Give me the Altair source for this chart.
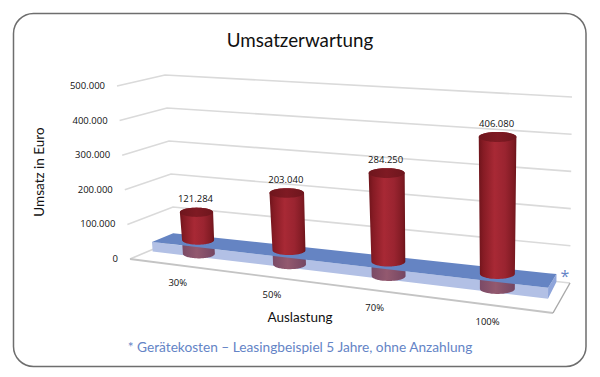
import numpy as np
import pandas as pd
import altair as alt

categories = ["30%", "50%", "70%", "100%"]
revenue = [121284, 203040, 284250, 406080]
tick_values = [0, 100000, 200000, 300000, 400000, 500000]
TITLE = "Umsatzerwartung"
Y_TITLE = "Umsatz in Euro"
X_TITLE = "Auslastung"
FOOTNOTE = "* Gerätekosten – Leasingbeispiel 5 Jahre, ohne Anzahlung"
VMAX = 500000
FONT = "Open Sans"
FONT2 = "Lato"
BLUE = "#6484C6"

# scene: corners of the 3D box as seen on the page
# keyed (u, d, v): u along categories, d back->front, v floor->top
C = {
    (0, 0, 0): (175, 240), (0, 0, 1): (165, 75),
    (1, 0, 0): (570, 283), (1, 0, 1): (572, 97),
    (0, 1, 0): (130, 259), (0, 1, 1): (117, 86),
    (1, 1, 0): (553, 313), (1, 1, 1): (556, 117),
}


def screen(u, d, v):
    x = y = 0.0
    for (a, b, c), (px, py) in C.items():
        w = (u if a else 1 - u) * (d if b else 1 - d) * (v if c else 1 - v)
        x += w * px
        y += w * py
    return x, y


def persp(u, w=1.2):
    return 0.004 + 0.98 * u / (u + w * (1 - u))


xs = alt.Scale(domain=[8, 590], range=[0, 582], nice=False, zero=False)
ys = alt.Scale(domain=[369, 8], range=[361, 0], nice=False, zero=False)
X = alt.X("x:Q", scale=xs, axis=None)
Y = alt.Y("y:Q", scale=ys, axis=None)


def envelope(poly):
    poly = list(poly)
    grid = sorted({round(p[0], 3) for p in poly})
    rows = []
    n = len(poly)
    for gx in grid:
        hits = []
        for i in range(n):
            (x0, y0), (x1, y1) = poly[i], poly[(i + 1) % n]
            lo, hi = min(x0, x1), max(x0, x1)
            if lo - 1e-3 <= gx <= hi + 1e-3:
                if abs(x1 - x0) < 1e-6:
                    hits += [y0, y1]
                else:
                    hits.append(y0 + (gx - x0) / (x1 - x0) * (y1 - y0))
        if hits:
            rows.append({"x": gx, "y": min(hits), "y2": max(hits)})
    return pd.DataFrame(rows)


def shape(poly, fill, **kw):
    return alt.Chart(envelope(poly)).mark_area(color=fill, **kw).encode(
        x=X, y=Y, y2=alt.Y2("y2:Q"))


def line(points, color, width):
    df = pd.DataFrame(points, columns=["x", "y"]).assign(o=range(len(points)))
    return alt.Chart(df).mark_line(color=color, strokeWidth=width).encode(
        x=alt.X("x:Q", scale=xs, axis=None, sort=None), y=Y, order="o:Q")


def text(x, y, s, **kw):
    df = pd.DataFrame({"x": [x], "y": [y], "t": [s]})
    kw.setdefault("font", FONT)
    kw.setdefault("color", "#111111")
    return alt.Chart(df).mark_text(**kw).encode(x=X, y=Y, text="t:N")


def hgrad(stops):
    return alt.Gradient(
        gradient="linear", x1=0, x2=1, y1=0, y2=0,
        stops=[alt.GradientStop(offset=o, color=c) for o, c in stops])


def ellipse_pts(c, rx, ry, a0=0.0, a1=2 * np.pi, n=48):
    return [(c[0] + rx * np.cos(t), c[1] + ry * np.sin(t))
            for t in np.linspace(a0, a1, n, endpoint=(a1 - a0) < 6)]


layers = []

# frame
frame = pd.DataFrame({"x": [13.5], "x2": [586], "y": [13.5], "y2": [366.5]})
layers.append(alt.Chart(frame).mark_rect(
    cornerRadius=20, fill="white", stroke="#6E6E6E", strokeWidth=1.5).encode(
    x=alt.X("x:Q", scale=xs, axis=None), x2="x2:Q",
    y=alt.Y("y:Q", scale=ys, axis=None), y2="y2:Q"))

# gridlines and floor
for t in tick_values[1:]:
    v = t / VMAX
    layers.append(line([screen(0, 1, v), screen(0, 0, v), screen(1, 0, v)], "#DADADA", 1.6))
layers.append(line([screen(0, 0, 0), screen(1, 0, 0)], "#DADADA", 1.6))
layers.append(line([screen(0, 0, 0), screen(0, 1, 0)], "#D6D6D6", 1.6))
layers.append(line([screen(0, 1, 0), screen(1, 1, 0)], "#C4C4C4", 1.8))
layers.append(line([screen(1, 1, 0), screen(1, 0, 0)], "#A8A8A8", 1.4))

# slab
U1, D0, D1, VT, VB = 0.967, 0.03, 0.5, 0.045, -0.012
side_front = [screen(0, D1, VT), screen(U1, D1, VT), screen(U1, D1, VB), screen(0, D1, VB)]
side_right = [screen(U1, D1, VT), screen(U1, D0, VT), screen(U1, D0, VB + 0.015), screen(U1, D1, VB)]
slab_top = [screen(0, D0, VT), screen(U1, D0, VT), screen(U1, D1, VT), screen(0, D1, VT)]
layers.append(shape(side_front, "#B2C0E5"))
layers.append(shape(side_right, "#8FA5DA"))

# bars
BAR_D = 0.45
CUT_V = 0.08
body_grad = hgrad([(0, "#6E141B"), (0.12, "#861B24"), (0.42, "#A82935"),
                   (0.7, "#9A2430"), (0.93, "#7E1A22"), (1, "#6A1319")])
top_grad = hgrad([(0, "#6E161D"), (0.5, "#7F1A23"), (1, "#6E161D")])
refl_grad = hgrad([(0, "#7A4A66"), (0.45, "#93596F"), (1, "#744662")])
bars_front = []
for i, val in enumerate(revenue):
    u = persp((i + 0.5) / len(revenue))
    base = screen(u, BAR_D, 0)
    cut = screen(u, BAR_D, CUT_V)
    top = screen(u, BAR_D, val / VMAX)
    r0 = 15.8 + 2.0 * u
    r1 = 16.3 + 3.0 * u
    ry = 0.29 * r0
    # reflection below the slab
    refl = (ellipse_pts(base, r0, ry, 0, np.pi, 24)
            + ellipse_pts(cut, r0, ry, np.pi, 2 * np.pi, 24))
    layers.append(shape(refl, refl_grad))
    # visible body, then the darker top cap
    body = (ellipse_pts(cut, r0, ry, 0, np.pi, 24)
            + ellipse_pts(top, r1, ry, np.pi, 2 * np.pi, 24))
    bars_front.append(shape(body, body_grad))
    bars_front.append(shape(ellipse_pts(top, r1, ry), top_grad))
    bars_front.append(text(top[0] - 1, top[1] - 13, f"{val:,}".replace(",", "."),
                           fontSize=9.5, align="center", baseline="middle"))
    fx, fy = screen(u, 1, 0)
    bars_front.append(text(fx + 2, fy + 18, categories[i], fontSize=9.5,
                           align="center", baseline="middle"))

layers.append(shape(slab_top, "#6584C3"))
layers += bars_front

# value axis labels
for t in tick_values:
    lx, ly = screen(0, 1, t / VMAX)
    layers.append(text(lx - 12, ly, f"{t:,}".replace(",", "."), fontSize=9.5,
                       align="right", baseline="middle"))

layers.append(text(565, 277, "*", fontSize=16, color=BLUE, align="center", baseline="middle"))
layers.append(text(300, 41, TITLE, fontSize=18.8, font=FONT2, color="#111111",
                   align="center", baseline="middle"))
layers.append(text(40, 172, Y_TITLE, fontSize=13.5, font=FONT2, color="#111111", angle=270,
                   align="center", baseline="middle"))
layers.append(text(300, 318, X_TITLE, fontSize=13.5, font=FONT2, color="#111111",
                   align="center", baseline="middle"))
layers.append(text(300, 348, FOOTNOTE, fontSize=13.7, font=FONT2, color=BLUE,
                   align="center", baseline="middle"))

chart = alt.layer(*layers).properties(
    width=582, height=361, padding=0,
    autosize=alt.AutoSizeParams(type="none"),
    background="white",
).configure_view(stroke=None)

chart.save("out.html", embed_options={"renderer": "svg", "actions": False})
